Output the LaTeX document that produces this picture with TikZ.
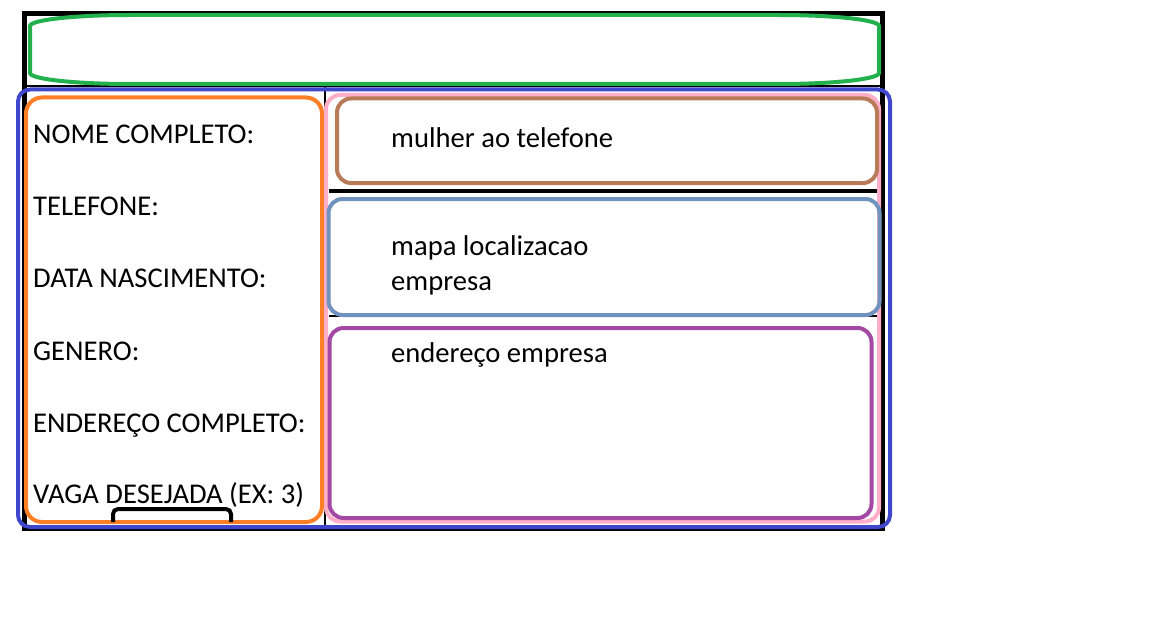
\documentclass[tikz,border=0pt]{standalone}
\usepackage{fontspec}
\setmainfont{Carlito}
\definecolor{pgreen}{HTML}{22B14C}
\definecolor{pblue}{HTML}{3F48CC}
\definecolor{porange}{HTML}{FF7F27}
\definecolor{ppink}{HTML}{FFAEC9}
\definecolor{pbrown}{HTML}{B97A57}
\definecolor{psteel}{HTML}{7092BE}
\definecolor{ppurple}{HTML}{A349A4}
\begin{document}
\begin{tikzpicture}[x=1pt,y=-1pt,
  frame/.style={line width=4pt, rounded corners=14pt},
  lbl/.style={anchor=base west, inner sep=0pt, font=\fontsize{28.6}{35}\selectfont},
  rule/.style={draw=black, line width=4pt}]
\useasboundingbox[fill=white] (0,0) rectangle (1166,623);
% outer black frame and lines
\draw[line width=5pt] (24,13.5) rectangle (882.5,528);
\draw[line width=2pt] (24,86) -- (882.5,86);
\draw[line width=2pt] (325,86) -- (325,528);
% header
\draw[pgreen, line width=4pt] (130,15) -- (779,15)
  arc[start angle=-90, end angle=0, x radius=100, y radius=11] -- (879,73)
  arc[start angle=0, end angle=90, x radius=100, y radius=11] -- (130,84)
  arc[start angle=90, end angle=180, x radius=100, y radius=11] -- (30,26)
  arc[start angle=180, end angle=270, x radius=100, y radius=11] -- cycle;
% containers
\draw[frame, pblue, rounded corners=12pt] (18,89.5) rectangle (890,527);
\draw[frame, porange, rounded corners=16pt] (26,97.5) rectangle (322,522);
\draw[frame, ppink] (326,95) rectangle (879,521.5);
\draw[rule] (329,190.5) -- (877,190.5);
\draw[black, line width=2pt] (329,316) -- (877,316);
\draw[frame, pbrown] (337,98.5) rectangle (877,183);
\draw[frame, psteel] (328.5,199) rectangle (879.5,315);
\draw[frame, ppurple] (329.5,328) rectangle (871.5,518);
% small bracket
\draw[line width=4pt, rounded corners=5pt] (113,522) -- (113,509) -- (231,509) -- (231,522);
% labels
\node[lbl] (nome) at (33,143.5) {NOME COMPLETO:};
\node[lbl] (tel) at (33,215) {TELEFONE:};
\node[lbl] (nasc) at (33,287) {DATA NASCIMENTO:};
\node[lbl] (gen) at (33,360) {GENERO:};
\node[lbl] (end) at (33,432) {ENDEREÇO COMPLETO:};
\node[lbl] (vaga) at (33,503) {VAGA DESEJADA (EX: 3)};
\node[lbl] (mulher) at (391,147) {mulher ao telefone};
\node[lbl] (mapa) at (391,255) {mapa localizacao};
\node[lbl] (mapa2) at (391,290) {empresa};
\node[lbl] (ende) at (391,362) {endereço empresa};
\end{tikzpicture}
\end{document}
